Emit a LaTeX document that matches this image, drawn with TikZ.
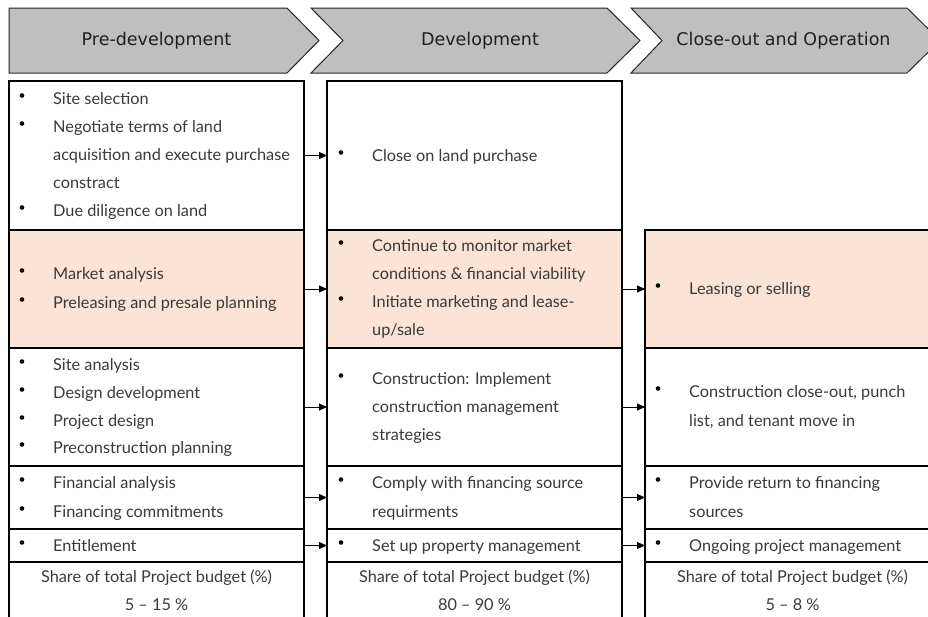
\documentclass[tikz,border=0pt]{standalone}
\usepackage{fontspec}
\setmainfont{Lato}
\newfontfamily\headfont{DejaVu Sans}
\usetikzlibrary{arrows.meta}
\definecolor{headgray}{HTML}{BFBFBF}
\definecolor{peach}{HTML}{FBE4D5}
\definecolor{inkgray}{HTML}{3A3A3A}
\tikzset{
  cell/.style={draw=black, line width=1.1pt, anchor=north west, inner sep=0pt, outer sep=0pt, fill=white},
  peachcell/.style={cell, fill=peach},
  budgetcell/.style={cell, line width=1.8pt},
  chevron/.style={draw=black!85, line width=1pt, fill=headgray},
  headtxt/.style={font=\headfont\fontsize{17.5}{20}\selectfont, text=black!88, inner sep=0pt},
  txt/.style={font=\fontsize{16.3}{19}\selectfont, text=inkgray, anchor=base west, inner sep=0pt},
  ctxt/.style={font=\fontsize{16.3}{19}\selectfont, text=inkgray, anchor=base, inner sep=0pt},
  dot/.style={circle, fill=black, inner sep=0pt, minimum size=4.6pt},
  flow/.style={line width=0.8pt, -{Triangle[length=8pt,width=7pt]}}
}
% bullet item: name, text x, centre y, text
\newcommand\bulline[4]{%
  \node[dot] (#1d) at ({#2-31},{#3-3.5}) {};
  \node[txt] (#1) at (#2,{#3+5}) {#4};}
% continuation line of an item
\newcommand\contline[4]{\node[txt] (#1) at (#2,{#3+5}) {#4};}
\begin{document}
\begin{tikzpicture}[x=1pt,y=-1pt]
\useasboundingbox (0,0) rectangle (928,616);
\clip (0,0) rectangle (928,616);

% phase chevrons
\path[chevron] (9,8) -- (287,8) -- (319,40.5) -- (287,73) -- (9,73) -- cycle;
\path[chevron] (311,8) -- (607,8) -- (640,40.5) -- (607,73) -- (311,73) -- (343,40.5) -- cycle;
\path[chevron] (631,8) -- (907,8) -- (940,40.5) -- (907,73) -- (631,73) -- (662,40.5) -- cycle;
\node[headtxt] (h1) at (156.5,41) {Pre-development};
\node[headtxt] (h2) at (480,41) {Development};
\node[headtxt] (h3) at (783.5,41) {Close-out and Operation};

% cells: column 1
\node[cell, minimum width=295pt, minimum height=149pt] (a1) at (9,81) {};
\node[peachcell, minimum width=295pt, minimum height=118pt] (a2) at (9,230) {};
\node[cell, minimum width=295pt, minimum height=118pt] (a3) at (9,348) {};
\node[cell, minimum width=295pt, minimum height=63pt] (a4) at (9,466) {};
\node[cell, minimum width=295pt, minimum height=33pt] (a5) at (9,529) {};
\node[budgetcell, minimum width=295pt, minimum height=70pt] (a6) at (9,562) {};
% cells: column 2
\node[cell, minimum width=295pt, minimum height=149pt] (b1) at (327,81) {};
\node[peachcell, minimum width=295pt, minimum height=118pt] (b2) at (327,230) {};
\node[cell, minimum width=295pt, minimum height=118pt] (b3) at (327,348) {};
\node[cell, minimum width=295pt, minimum height=63pt] (b4) at (327,466) {};
\node[cell, minimum width=295pt, minimum height=33pt] (b5) at (327,529) {};
\node[budgetcell, minimum width=295pt, minimum height=70pt] (b6) at (327,562) {};
% cells: column 3
\node[peachcell, minimum width=295pt, minimum height=118pt] (c2) at (645,230) {};
\node[cell, minimum width=295pt, minimum height=118pt] (c3) at (645,348) {};
\node[cell, minimum width=295pt, minimum height=63pt] (c4) at (645,466) {};
\node[cell, minimum width=295pt, minimum height=33pt] (c5) at (645,529) {};
\node[budgetcell, minimum width=295pt, minimum height=70pt] (c6) at (645,562) {};

% column 1 text
\bulline{ta1a}{53}{99}{Site selection}
\bulline{ta1b}{53}{127}{Negotiate terms of land}
\contline{ta1c}{53}{155.5}{acquisition and execute purchase}
\contline{ta1d}{53}{183}{constract}
\bulline{ta1e}{53}{211}{Due diligence on land}
\bulline{ta2a}{53}{274}{Market analysis}
\bulline{ta2b}{53}{303}{Preleasing and presale planning}
\bulline{ta3a}{53}{365}{Site analysis}
\bulline{ta3b}{53}{393}{Design development}
\bulline{ta3c}{53}{421}{Project design}
\bulline{ta3d}{53}{448}{Preconstruction planning}
\bulline{ta4a}{53}{483}{Financial analysis}
\bulline{ta4b}{53}{512}{Financing commitments}
\bulline{ta5a}{53}{546}{Entitlement}
\node[ctxt] (ta6a) at (156.5,582) {Share of total Project budget (\%)};
\node[ctxt] (ta6b) at (156.5,610) {5 -- 15 \%};

% column 2 text
\bulline{tb1a}{372}{156}{Close on land purchase}
\bulline{tb2a}{372}{246}{Continue to monitor market}
\contline{tb2b}{372}{274}{conditions \& financial viability}
\bulline{tb2c}{372}{302}{Initiate marketing and lease-}
\contline{tb2d}{372}{330}{up/sale}
\bulline{tb3a}{372}{379}{Construction: Implement}
\contline{tb3b}{372}{407}{construction management}
\contline{tb3c}{372}{435}{strategies}
\bulline{tb4a}{372}{483}{Comply with financing source}
\contline{tb4b}{372}{512}{requirments}
\bulline{tb5a}{372}{546}{Set up property management}
\node[ctxt] (tb6a) at (474.5,582) {Share of total Project budget (\%)};
\node[ctxt] (tb6b) at (474.5,610) {80 -- 90 \%};

% column 3 text
\bulline{tc2a}{689}{289}{Leasing or selling}
\bulline{tc3a}{689}{392}{Construction close-out, punch}
\contline{tc3b}{689}{421}{list, and tenant move in}
\bulline{tc4a}{689}{483}{Provide return to financing}
\contline{tc4b}{689}{512}{sources}
\bulline{tc5a}{689}{546}{Ongoing project management}
\node[ctxt] (tc6a) at (792.5,582) {Share of total Project budget (\%)};
\node[ctxt] (tc6b) at (792.5,610) {5 -- 8 \%};

% flows between phases
\draw[flow] (a1.east) -- (b1.west);
\draw[flow] (a2.east) -- (b2.west);
\draw[flow] (a3.east) -- (b3.west);
\draw[flow] (a4.east) -- (b4.west);
\draw[flow] (a5.east) -- (b5.west);
\draw[flow] (b2.east) -- (c2.west);
\draw[flow] (b3.east) -- (c3.west);
\draw[flow] (b4.east) -- (c4.west);
\draw[flow] (b5.east) -- (c5.west);
\end{tikzpicture}
\end{document}
